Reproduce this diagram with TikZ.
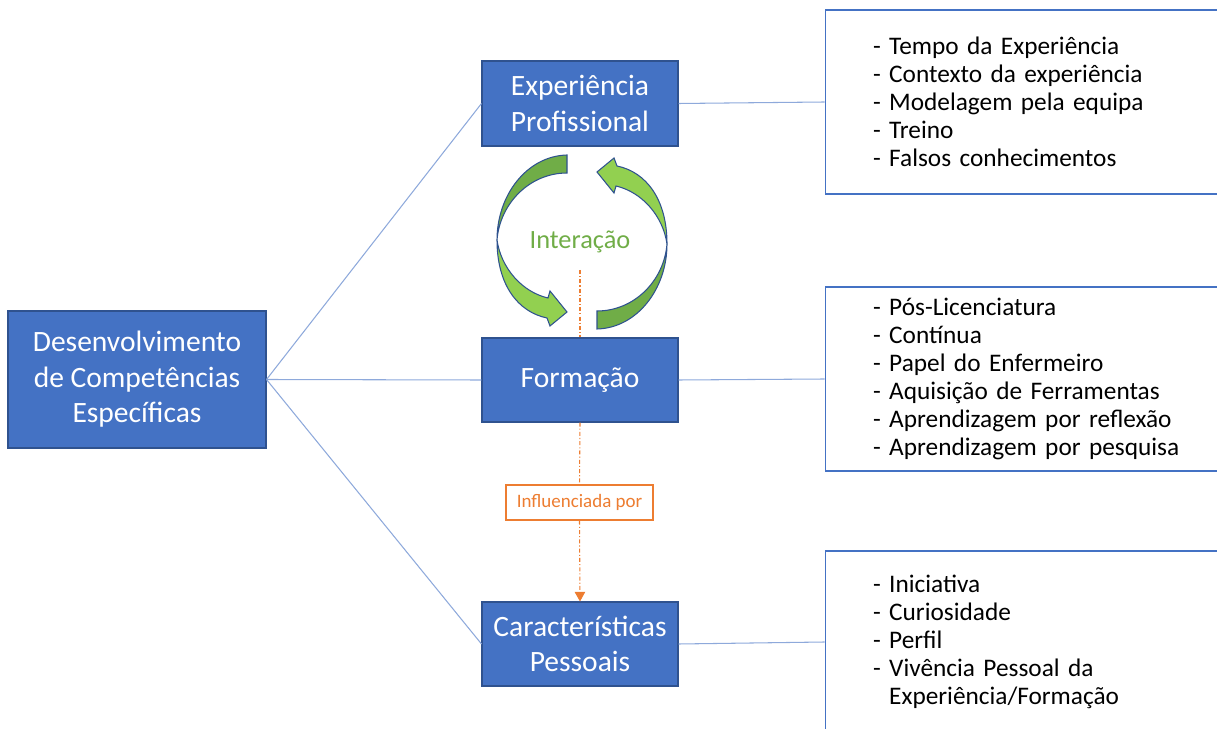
\documentclass[tikz,border=0pt]{standalone}
\usepackage{fontspec}
\setmainfont{Carlito}
\usetikzlibrary{arrows.meta, positioning}

\definecolor{boxblue}{HTML}{4472C4}
\definecolor{boxline}{HTML}{2F528F}
\definecolor{linkblue}{HTML}{8EA9DB}
\definecolor{orangeline}{HTML}{ED7D31}
\definecolor{darkgreen}{HTML}{70AD47}
\definecolor{lightgreen}{HTML}{92D050}

\tikzset{
  topic/.style={draw=boxline, fill=boxblue, text=white, align=center,
    minimum width=3.92cm, minimum height=1.70cm, inner sep=0pt,
    line width=0.6pt, font=\fontsize{16.8}{20.2}\selectfont},
  listbox/.style={draw=boxblue, line width=0.6pt, text width=6.48cm,
    inner xsep=0.96cm, inner ysep=0pt, minimum height=3.68cm, align=left,
    font=\fontsize{14.4}{15.9}\selectfont},
  link/.style={draw=linkblue, line width=0.6pt},
  influence/.style={draw=orangeline, line width=0.6pt,
    dash pattern=on 2.3pt off 1.2pt on 0.6pt off 1.2pt},
  tag/.style={draw=orangeline, fill=white, text=orangeline, line width=0.8pt,
    minimum width=2.94cm, minimum height=0.7cm, inner sep=0pt,
    font=\fontsize{10.8}{13}\selectfont},
  twist/.style={draw=boxline, line width=0.6pt}
}

\begin{document}
\begin{tikzpicture}[x=0.02cm, y=-0.02cm]
\clip (0,0) rectangle (1217,729);

% central topic and the three factors
\node[topic, minimum width=5.16cm, minimum height=2.74cm] (dcomp) at (137,379.5) {Desenvolvimento\\de Competências\\Específicas};
\node[topic] (exper) at (580,103.5) {Experiência\\Profissional};
\node[topic, minimum height=1.68cm] (form) at (580,380) {Formação};
\node[topic, minimum height=1.68cm] (carac) at (580,644) {Características\\Pessoais};

% lists on the right
\node[listbox] (experlist) at (1035,102) {- Tempo da Experiência\\- Contexto da experiência\\- Modelagem pela equipa\\- Treino\\- Falsos conhecimentos};
\node[listbox] (formlist) at (1035,379) {- Pós-Licenciatura\\- Contínua\\- Papel do Enfermeiro\\- Aquisição de Ferramentas\\- Aprendizagem por reflexão\\- Aprendizagem por pesquisa};
\node[listbox, minimum height=3.64cm] (caraclist) at (1035,642) {- Iniciativa\\- Curiosidade\\- Perfil\\- Vivência Pessoal da\\\hphantom{-}~Experiência/Formação};

\draw[link] (dcomp.east) -- (exper.west);
\draw[link] (dcomp.east) -- (form.west);
\draw[link] (dcomp.east) -- (carac.west);
\draw[link] (exper.east) -- (experlist.west);
\draw[link] (form.east) -- (formlist.west);
\draw[link] (carac.east) -- (caraclist.west);

% interaction arrows
\foreach \turn in {0,180} {
  \begin{scope}[rotate around={\turn:(582,242)}]
    \filldraw[twist, fill=darkgreen] (567,155) .. controls (527,156) and (497,195) .. (497,240)
      .. controls (500,203) and (530,173) .. (567,173) -- cycle;
    \filldraw[twist, fill=lightgreen] (497,240) .. controls (497,285) and (518,312) .. (547,318)
      -- (550,326) -- (567,312) -- (550,291) -- (548,298)
      .. controls (522,292) and (501,268) .. (497,240) -- cycle;
  \end{scope}
}
\node[text=darkgreen, font=\fontsize{15}{18}\selectfont] (inter) at (580,242) {Interação};

% influence
\coordinate (ddstart) at (580,270);
\node[tag] (infl) at (579.5,502.5) {Influenciada por};
\draw[influence] (ddstart) -- (form.north);
\draw[influence] (form.south) -- (infl.north);
\draw[influence, -{Triangle[width=6pt,length=5.5pt]}] (infl.south) -- (carac.north);
\end{tikzpicture}
\end{document}
